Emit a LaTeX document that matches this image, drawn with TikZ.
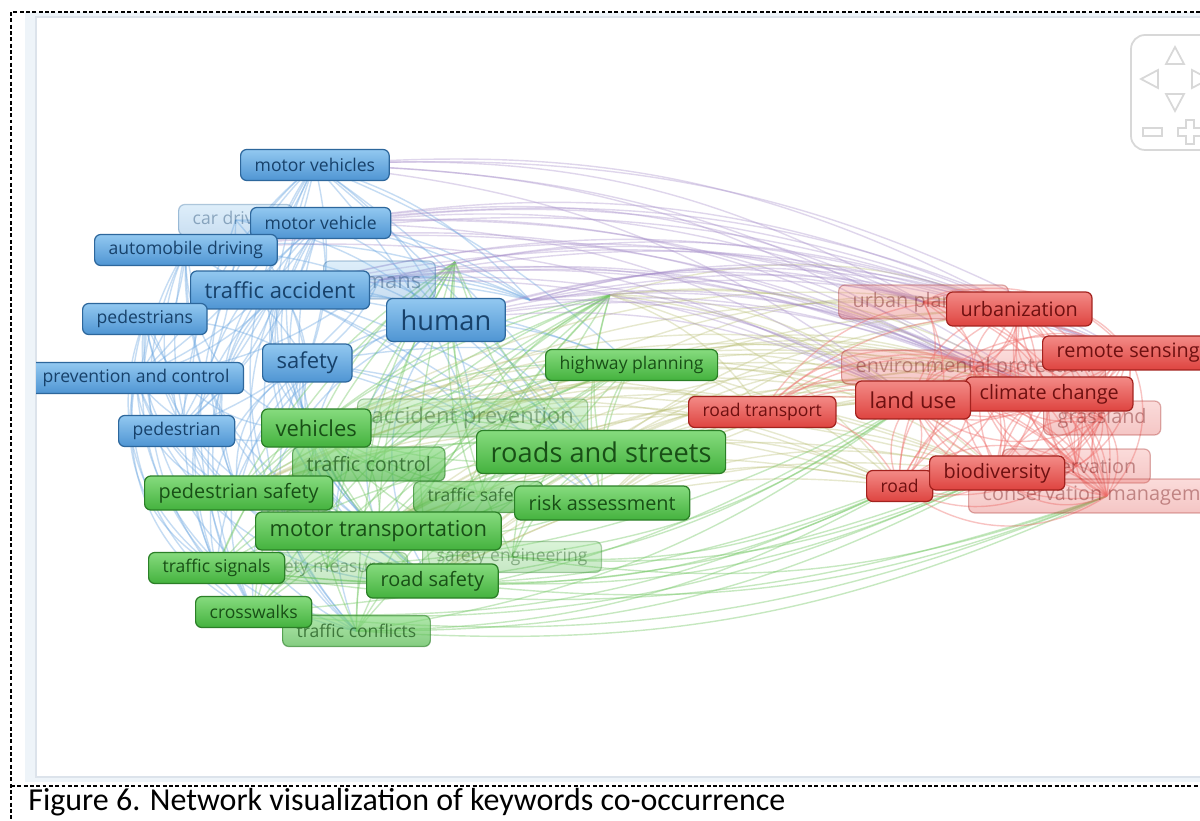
\documentclass[tikz,border=0pt]{standalone}
\usepackage{fontspec}
\newfontfamily\kwfont{Open Sans}
\newfontfamily\capfont{Carlito}
\usetikzlibrary{backgrounds}

\definecolor{bluetop}{HTML}{92C8F0}
\definecolor{bluebot}{HTML}{4F95D3}
\definecolor{blueline}{HTML}{2D679C}
\definecolor{bluetext}{HTML}{17416A}
\definecolor{greentop}{HTML}{86DB7E}
\definecolor{greenbot}{HTML}{44B23E}
\definecolor{greenline}{HTML}{2B7F27}
\definecolor{greentext}{HTML}{184F16}
\definecolor{redtop}{HTML}{F38A86}
\definecolor{redbot}{HTML}{DE4440}
\definecolor{redline}{HTML}{A3221E}
\definecolor{redtext}{HTML}{6E1010}
\definecolor{linkblue}{HTML}{6FA9E2}
\definecolor{linkgreen}{HTML}{72C763}
\definecolor{linkred}{HTML}{EF6B68}
\definecolor{linkpurple}{HTML}{A58CC9}
\definecolor{linkolive}{HTML}{B9BE73}
\definecolor{panelband}{HTML}{EEF4F9}
\definecolor{panelline}{HTML}{DCE3EB}
\definecolor{navgray}{HTML}{D8D8D8}

\tikzstyle{kw}=[anchor=west, rounded corners=3.5pt, line width=.7pt, inner xsep=8pt, inner ysep=0pt]
\tikzstyle{kw blue}=[kw, top color=bluetop, bottom color=bluebot, draw=blueline, text=bluetext]
\tikzstyle{kw green}=[kw, top color=greentop, bottom color=greenbot, draw=greenline, text=greentext]
\tikzstyle{kw red}=[kw, top color=redtop, bottom color=redbot, draw=redline, text=redtext]
\tikzstyle{sz s}=[font=\kwfont\fontsize{10}{12}\selectfont, minimum height=.62cm]
\tikzstyle{sz m}=[font=\kwfont\fontsize{11.3}{13}\selectfont, minimum height=.68cm]
\tikzstyle{sz l}=[font=\kwfont\fontsize{12.5}{15}\selectfont, minimum height=.76cm]
\tikzstyle{sz xl}=[font=\kwfont\fontsize{15.5}{18}\selectfont, minimum height=.86cm]
\tikzstyle{faded}=[fill opacity=.3, draw opacity=.35, text opacity=.4]
\tikzstyle{dim}=[fill opacity=.65, draw opacity=.6, text opacity=.7]
\tikzstyle{link}=[line width=.8pt]
\tikzstyle{link blue}=[link, draw=linkblue, draw opacity=.4]
\tikzstyle{link green}=[link, draw=linkgreen, draw opacity=.4]
\tikzstyle{link red}=[link, draw=linkred, draw opacity=.4]
\tikzstyle{link purple}=[link, draw=linkpurple, draw opacity=.35]
\tikzstyle{link olive}=[link, draw=linkolive, draw opacity=.35]
\tikzstyle{frame}=[line width=.8pt, dash pattern=on 2.2pt off 1.4pt]

\begin{document}
\begin{tikzpicture}[x=.02cm,y=-.02cm]
    \useasboundingbox (0,0) rectangle (1200,821);

    % Keywords
    \begin{scope}
    \clip (36,17) rectangle (1200,777);
    \coordinate (hubA) at (455,262);
    \coordinate (hubB) at (530,300);
    \coordinate (hubC) at (610,295);

    % faded labels
    \draw (178,220) node[kw blue,sz s,faded] (cardriving) {car driving};
    \draw (323,280) node[kw blue,sz l,faded] (humans) {humans};
    \draw (357,418) node[kw green,sz l,faded] (accprev) {accident prevention};
    \draw (292,464) node[kw green,sz m,dim] (trafficctrl) {traffic control};
    \draw (413,497) node[kw green,sz s,dim] (trafficsafety) {traffic safety};
    \draw (245,568) node[kw green,sz s,faded] (safetymeas) {safety measures};
    \draw (422,557) node[kw green,sz s,faded] (safetyeng) {safety engineering};
    \draw (282,631) node[kw green,sz s,dim] (trafficconf) {traffic conflicts};
    \draw (838,302) node[kw red,sz m,faded] (urbanplan) {urban planning};
    \draw (841,367) node[kw red,sz m,faded] (envprot) {environmental protection};
    \draw (1043,418) node[kw red,sz m,faded] (grassland) {grassland};
    \draw (1002,466) node[kw red,sz m,faded] (conservation) {conservation};
    \draw (968,496) node[kw red,sz m,faded] (consmanage) {conservation management};

    % blue cluster
    \draw (240,165) node[kw blue,sz s] (motorvehicles) {motor vehicles};
    \draw (250,223) node[kw blue,sz s] (motorvehicle) {motor vehicle};
    \draw (94,250) node[kw blue,sz s] (autodriving) {automobile driving};
    \draw (190,290) node[kw blue,sz l] (trafficacc) {traffic accident};
    \draw (82,319) node[kw blue,sz s] (pedestrians) {pedestrians};
    \draw (386,320) node[kw blue,sz xl] (human) {human};
    \draw (262,363) node[kw blue,sz l] (safety) {safety};
    \draw (28,378) node[kw blue,sz s] (prevcontrol) {prevention and control};
    \draw (118,431) node[kw blue,sz s] (pedestrian) {pedestrian};

    % green cluster
    \draw (545,365) node[kw green,sz s] (highwayplan) {highway planning};
    \draw (261,428) node[kw green,sz l] (vehicles) {vehicles};
    \draw (476,452) node[kw green,sz xl] (roadsstreets) {roads and streets};
    \draw (144,493) node[kw green,sz m] (pedsafety) {pedestrian safety};
    \draw (514,503) node[kw green,sz m] (riskassess) {risk assessment};
    \draw (255,531) node[kw green,sz l] (motortransp) {motor transportation};
    \draw (148,568) node[kw green,sz s] (trafficsig) {traffic signals};
    \draw (366,581) node[kw green,sz m] (roadsafety) {road safety};
    \draw (195,612) node[kw green,sz s] (crosswalks) {crosswalks};

    % red cluster
    \draw (946,309) node[kw red,sz m] (urbanization) {urbanization};
    \draw (1042,353) node[kw red,sz m] (remotesensing) {remote sensing};
    \draw (688,412) node[kw red,sz s] (roadtransport) {road transport};
    \draw (965,394) node[kw red,sz m] (climatechange) {climate change};
    \draw (855,400) node[kw red,sz l] (landuse) {land use};
    \draw (866,486) node[kw red,sz s] (road) {road};
    \draw (929,473) node[kw red,sz m] (biodiversity) {biodiversity};

    % Navigation
    \draw[navgray,line width=1pt,rounded corners=8pt] (1131,35) rectangle (1240,150);
    \draw[navgray,line width=1pt] (1166,64) -- (1184,64) -- (1175,47) -- cycle;
    \draw[navgray,line width=1pt] (1158,70) -- (1158,88) -- (1141,79) -- cycle;
    \draw[navgray,line width=1pt] (1192,70) -- (1192,88) -- (1209,79) -- cycle;
    \draw[navgray,line width=1pt] (1166,94) -- (1184,94) -- (1175,111) -- cycle;
    \draw[navgray,line width=1pt] (1143,128) rectangle (1162,136);
    \draw[navgray,line width=1pt] (1186,120) -- (1194,120) -- (1194,128) -- (1202,128) -- (1202,136) -- (1194,136) -- (1194,144) -- (1186,144) -- (1186,136) -- (1178,136) -- (1178,128) -- (1186,128) -- cycle;
    \end{scope}

    % Links
    \begin{pgfonlayer}{background}
    \fill[panelband] (25,12) rectangle (1200,782);
    \draw[panelline,fill=white,line width=.8pt] (36,17) rectangle (1210,777);
    \begin{scope}
    \clip (36,17) rectangle (1200,777);
    \foreach \a in {motorvehicles,motorvehicle,autodriving,trafficacc,pedestrians,cardriving,humans}
      \foreach \b in {human,safety,pedestrian,prevcontrol,hubB}
        \draw[link blue] (\a.center) to[bend left=15] (\b.center);
    \foreach \a in {motorvehicles,motorvehicle,autodriving,trafficacc,pedestrians,safety,human,prevcontrol}
      \foreach \b in {crosswalks,trafficsig,pedsafety,motortransp,roadsafety,trafficconf,vehicles}
        \draw[link blue] (\a.center) to[bend right=38] (\b.center);
    \foreach \a in {motorvehicles,human,safety,trafficacc}
      \foreach \b in {roadsstreets,riskassess,accprev,highwayplan}
        \draw[link blue] (\a.center) to[bend left=10] (\b.center);
    \foreach \a in {vehicles,roadsstreets,motortransp,pedsafety,trafficctrl,riskassess,roadsafety,trafficsig,crosswalks,trafficconf,safetyeng,safetymeas,accprev,trafficsafety}
      \foreach \b in {hubA,hubC,highwayplan,roadsstreets,motortransp,vehicles}
        {\ifx\a\b\else\draw[link green] (\a.center) to[bend left=14] (\b.center);\fi}
    \foreach \a in {roadsstreets,motortransp,riskassess,highwayplan,roadsafety,vehicles,pedsafety,hubC,accprev}
      \foreach \b in {landuse,roadtransport,road,biodiversity,climatechange,urbanization,envprot}
        \draw[link olive] (\a.center) to[bend left=18] (\b.center);
    \foreach \a in {crosswalks,trafficconf,roadsafety,trafficsig,safetyeng}
      \foreach \b in {road,consmanage,biodiversity,landuse}
        \draw[link green] (\a.center) to[bend right=14] (\b.center);
    \foreach \a in {motorvehicles,motorvehicle,trafficacc,human,autodriving,hubB,humans}
      \foreach \b in {urbanization,landuse,remotesensing,climatechange,urbanplan,envprot}
        \draw[link purple] (\a.center) to[bend left=16] (\b.center);
    \foreach \a in {urbanplan,urbanization,remotesensing,envprot,landuse,climatechange,grassland,road,biodiversity,conservation,consmanage,roadtransport}
      \foreach \b in {landuse,climatechange,biodiversity,envprot,urbanization,grassland,consmanage,conservation,remotesensing,road}
        {\ifx\a\b\else\draw[link red] (\a.center) to[bend left=35] (\b.center);\fi}
    \end{scope}
    \end{pgfonlayer}

    % Frame and caption
    \draw[frame] (1200,12) -- (11,12) -- (11,821);
    \draw[frame] (11,786) -- (1200,786);
    \draw (28,802) node[anchor=west,inner sep=0pt,font=\capfont\fontsize{18.2}{21}\selectfont] (caption) {Figure 6. Network visualization of keywords co-occurrence};
\end{tikzpicture}
\end{document}
